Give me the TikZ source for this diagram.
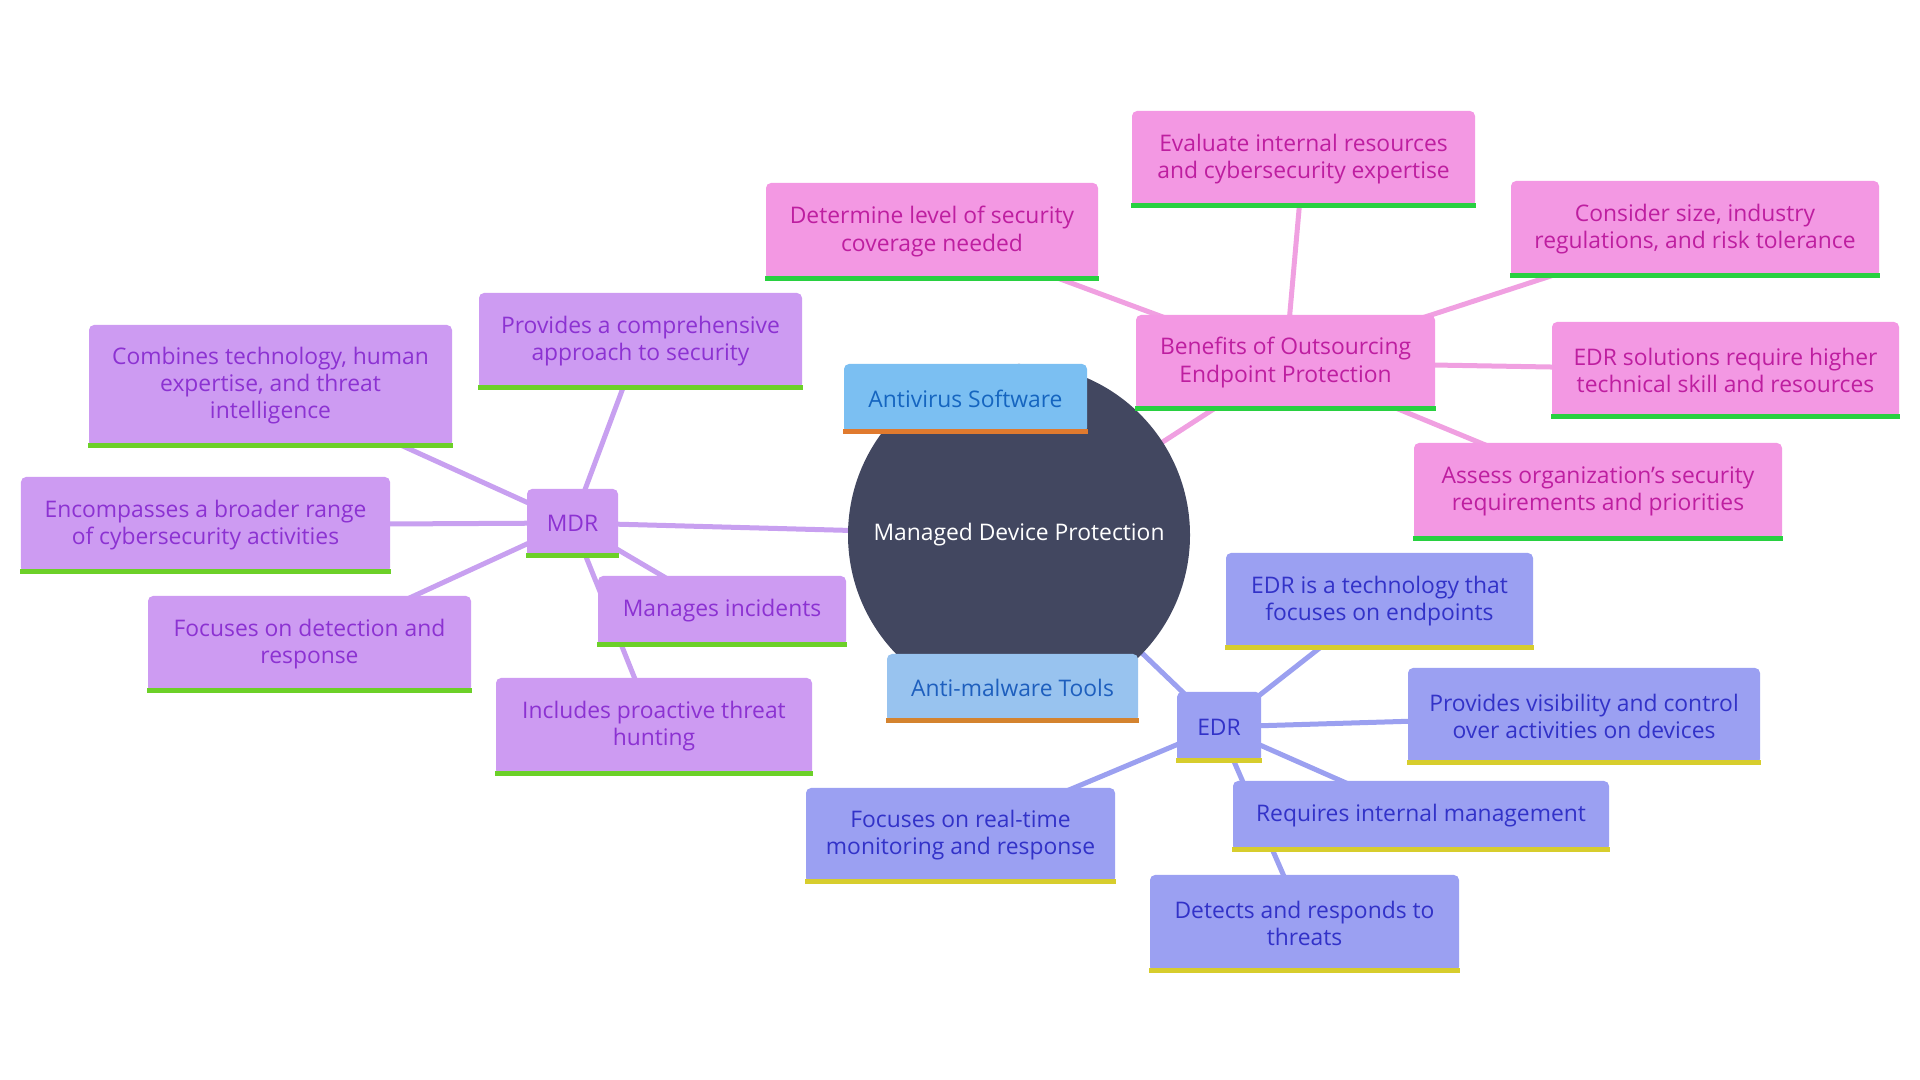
\documentclass[tikz,border=0pt]{standalone}
\usepackage{fontspec}
\setmainfont{Open Sans}
\usetikzlibrary{backgrounds}
\definecolor{hub}{RGB}{66, 71, 96}
\definecolor{avfill}{RGB}{123, 191, 242}
\definecolor{avtext}{RGB}{21, 101, 192}
\definecolor{avbar}{RGB}{224, 122, 46}
\definecolor{amfill}{RGB}{152, 195, 239}
\definecolor{amtext}{RGB}{30, 95, 190}
\definecolor{ambar}{RGB}{212, 131, 47}
\definecolor{pinkfill}{RGB}{243, 152, 227}
\definecolor{pinktext}{RGB}{190, 30, 160}
\definecolor{pinkedge}{RGB}{240, 160, 225}
\definecolor{pinkbar}{RGB}{40, 208, 64}
\definecolor{lilacfill}{RGB}{205, 155, 242}
\definecolor{lilactext}{RGB}{140, 50, 210}
\definecolor{lilacedge}{RGB}{200, 160, 240}
\definecolor{lilacbar}{RGB}{108, 208, 40}
\definecolor{indigofill}{RGB}{155, 160, 242}
\definecolor{indigotext}{RGB}{50, 50, 200}
\definecolor{indigoedge}{RGB}{155, 160, 240}
\definecolor{indigobar}{RGB}{215, 205, 45}

\begin{document}
\begin{tikzpicture}
  [
    every node/.style={font=\fontsize{6.5pt}{7.7pt}\selectfont},
    box/.style={rounded corners=0.05cm, align=center, inner sep=0pt},
    hubnode/.style={circle, fill=hub, text=white, minimum size=3.42cm, inner sep=0pt},
    tool/.style={box, fill=avfill, text=avtext},
    malware/.style={box, fill=amfill, text=amtext},
    benefit/.style={box, fill=pinkfill, text=pinktext},
    mdrleaf/.style={box, fill=lilacfill, text=lilactext},
    edrleaf/.style={box, fill=indigofill, text=indigotext},
    link/.style={line width=0.05cm}
  ]
  \useasboundingbox (0, 0) rectangle (19.2, 10.8);

  \node[hubnode] (hub) at (10.19, 5.45) {Managed Device Protection};

  \node[tool, minimum width=2.43cm, minimum height=0.69cm] (antivirus) at (9.655, 6.815) {Antivirus Software};
  \node[malware, minimum width=2.51cm, minimum height=0.68cm] (antimalware) at (10.125, 3.92) {Anti-malware Tools};

  \node[benefit, minimum width=2.99cm, minimum height=0.95cm] (benefits) at (12.855, 7.175) {Benefits of Outsourcing\\Endpoint Protection};
  \node[benefit, minimum width=3.43cm, minimum height=0.96cm] (evaluate) at (13.035, 9.21) {Evaluate internal resources\\and cybersecurity expertise};
  \node[benefit, minimum width=3.32cm, minimum height=0.97cm] (determine) at (9.32, 8.485) {Determine level of security\\coverage needed};
  \node[benefit, minimum width=3.68cm, minimum height=0.96cm] (consider) at (16.95, 8.51) {Consider size, industry\\regulations, and risk tolerance};
  \node[benefit, minimum width=3.47cm, minimum height=0.96cm] (edrskill) at (17.255, 7.10) {EDR solutions require higher\\technical skill and resources};
  \node[benefit, minimum width=3.68cm, minimum height=0.97cm] (assess) at (15.98, 5.885) {Assess organization’s security\\requirements and priorities};

  \node[mdrleaf, minimum width=0.91cm, minimum height=0.68cm] (mdr) at (5.725, 5.57) {MDR};
  \node[mdrleaf, minimum width=3.63cm, minimum height=1.22cm] (combines) at (2.705, 6.94) {Combines technology, human\\expertise, and threat\\intelligence};
  \node[mdrleaf, minimum width=3.23cm, minimum height=0.96cm] (comprehensive) at (6.405, 7.39) {Provides a comprehensive\\approach to security};
  \node[mdrleaf, minimum width=3.69cm, minimum height=0.96cm] (encompasses) at (2.055, 5.55) {Encompasses a broader range\\of cybersecurity activities};
  \node[mdrleaf, minimum width=3.23cm, minimum height=0.96cm] (detection) at (3.095, 4.36) {Focuses on detection and\\response};
  \node[mdrleaf, minimum width=2.48cm, minimum height=0.70cm] (incidents) at (7.22, 4.69) {Manages incidents};
  \node[mdrleaf, minimum width=3.16cm, minimum height=0.97cm] (hunting) at (6.54, 3.535) {Includes proactive threat\\hunting};

  \node[edrleaf, minimum width=0.84cm, minimum height=0.70cm] (edr) at (12.19, 3.53) {EDR};
  \node[edrleaf, minimum width=3.07cm, minimum height=0.96cm] (edrtech) at (13.795, 4.79) {EDR is a technology that\\focuses on endpoints};
  \node[edrleaf, minimum width=3.52cm, minimum height=0.96cm] (visibility) at (15.84, 3.64) {Provides visibility and control\\over activities on devices};
  \node[edrleaf, minimum width=3.76cm, minimum height=0.70cm] (internal) at (14.21, 2.64) {Requires internal management};
  \node[edrleaf, minimum width=3.09cm, minimum height=0.97cm] (threats) at (13.045, 1.565) {Detects and responds to\\threats};
  \node[edrleaf, minimum width=3.09cm, minimum height=0.95cm] (realtime) at (9.605, 2.445) {Focuses on real-time\\monitoring and response};

  \foreach \n/\c in {antivirus/avbar, antimalware/ambar,
      benefits/pinkbar, evaluate/pinkbar, determine/pinkbar, consider/pinkbar, edrskill/pinkbar, assess/pinkbar,
      mdr/lilacbar, combines/lilacbar, comprehensive/lilacbar, encompasses/lilacbar, detection/lilacbar, incidents/lilacbar, hunting/lilacbar,
      edr/indigobar, edrtech/indigobar, visibility/indigobar, internal/indigobar, threats/indigobar, realtime/indigobar}
    \fill[\c] (\n.south west) rectangle ([yshift=0.05cm]\n.south east);

  \begin{scope}[on background layer]
    \draw[link, lilacedge] (hub.center) -- (mdr.center);
    \draw[link, pinkedge] (hub.center) -- (benefits.center);
    \draw[link, indigoedge] (hub.center) -- (edr.center);
    \foreach \t in {evaluate, determine, consider, edrskill, assess}
      \draw[link, pinkedge] (benefits.center) -- (\t.center);
    \foreach \t in {combines, comprehensive, encompasses, detection, incidents, hunting}
      \draw[link, lilacedge] (mdr.center) -- (\t.center);
    \foreach \t in {edrtech, visibility, internal, threats, realtime}
      \draw[link, indigoedge] (edr.center) -- (\t.center);
  \end{scope}
\end{tikzpicture}
\end{document}
